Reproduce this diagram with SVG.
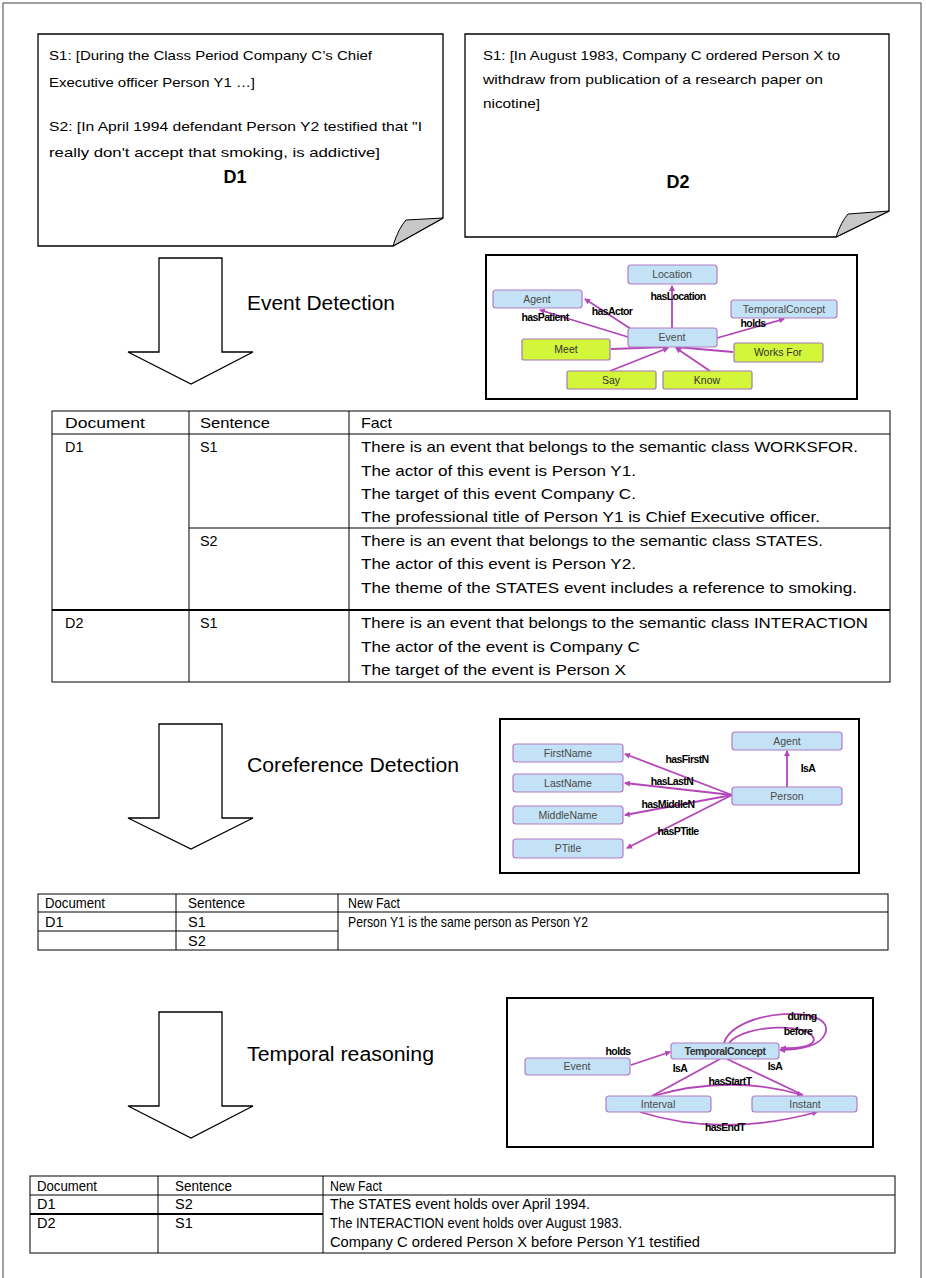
<svg xmlns="http://www.w3.org/2000/svg" width="926" height="1278" viewBox="0 0 926 1278">
<style>
text{font-family:"Liberation Sans",Arial,sans-serif;fill:#000}
.doc{font-size:13.4px}
.lbl{font-size:18px;font-weight:bold;text-anchor:middle}
.step{font-size:20px}
.t1{font-size:14.4px}
.t2{font-size:14.5px}
.on{font-size:10.5px;fill:#4a4a4a;text-anchor:middle}
.el{font-size:10.5px;font-weight:bold;letter-spacing:-0.6px;text-anchor:middle}
.nb{fill:#c3e2f5;stroke:#b47ac6;stroke-width:1.2}
.ng{fill:#d3f53a;stroke:#a27ab5;stroke-width:1.2}
.edge{stroke:#b446b9;stroke-width:1.8;fill:none}
.page{fill:#fff;stroke:#000;stroke-width:1.3}
.fold{fill:#c8c8c8;stroke:#000;stroke-width:1}
.arrow{fill:#fff;stroke:#000;stroke-width:1.3}
.grid{stroke:#000;stroke-width:1;fill:none}
.obox{fill:#fff;stroke:#000;stroke-width:2}
</style>
<defs>
<marker id="ah" markerWidth="6" markerHeight="6" refX="5" refY="3" orient="auto" markerUnits="userSpaceOnUse">
<path d="M0,0 L6,3 L0,6 Z" fill="#b446b9"/>
</marker>
</defs>
<rect x="0" y="0" width="926" height="1278" fill="#fff"/>
<rect x="3" y="3" width="918" height="1290" fill="none" stroke="#444" stroke-width="1"/>

<!-- Documents -->
<g id="doc-d1">
<path class="page" d="M38,34 H443 V218 L393,246 H38 Z"/>
<path class="fold" d="M393,246 Q398,229 406,220 L443,218 Z"/>
<text class="doc" x="49" y="60" textLength="323" lengthAdjust="spacingAndGlyphs">S1: [During the Class Period Company C’s Chief</text>
<text class="doc" x="49" y="87" textLength="206" lengthAdjust="spacingAndGlyphs">Executive officer Person Y1 …]</text>
<text class="doc" x="49" y="131" textLength="373" lengthAdjust="spacingAndGlyphs">S2: [In April 1994 defendant Person Y2 testified that "I</text>
<text class="doc" x="49" y="157" textLength="331" lengthAdjust="spacingAndGlyphs">really don't accept that smoking, is addictive]</text>
<text class="lbl" x="235" y="183">D1</text>
</g>
<g id="doc-d2">
<path class="page" d="M465,34 H889 V211 L836,237 H465 Z"/>
<path class="fold" d="M836,237 Q841,222 848,214 L889,211 Z"/>
<text class="doc" x="483" y="60" textLength="357" lengthAdjust="spacingAndGlyphs">S1: [In August 1983, Company C ordered Person X to</text>
<text class="doc" x="483" y="84" textLength="340" lengthAdjust="spacingAndGlyphs">withdraw from publication of a research paper on</text>
<text class="doc" x="483" y="108" textLength="57" lengthAdjust="spacingAndGlyphs">nicotine]</text>
<text class="lbl" x="678" y="188">D2</text>
</g>

<!-- Step arrows -->
<g id="step-event">
<polygon class="arrow" points="159,258 222,258 222,352 253,352 191,384 128,352 159,352"/>
<text class="step" x="247" y="310" textLength="148" lengthAdjust="spacingAndGlyphs">Event Detection</text>
</g>
<g id="step-coref">
<polygon class="arrow" points="159,724 222,724 222,818 253,818 191,849 128,818 159,818"/>
<text class="step" x="247" y="772" textLength="212" lengthAdjust="spacingAndGlyphs">Coreference Detection</text>
</g>
<g id="step-temporal">
<polygon class="arrow" points="159,1012 222,1012 222,1106 253,1106 191,1138 128,1106 159,1106"/>
<text class="step" x="247" y="1061" textLength="187" lengthAdjust="spacingAndGlyphs">Temporal reasoning</text>
</g>

<!-- Ontology 1 -->
<g id="onto-event">
<rect class="obox" x="486" y="255" width="371" height="144"/>
<g id="connectors-1">
<line class="edge" x1="672" y1="328" x2="672" y2="286" marker-end="url(#ah)"/>
<line class="edge" x1="634" y1="331" x2="585" y2="299" marker-end="url(#ah)"/>
<line class="edge" x1="628" y1="337" x2="540" y2="310" marker-end="url(#ah)"/>
<line class="edge" x1="717" y1="338" x2="784" y2="319" marker-end="url(#ah)"/>
<line class="edge" x1="611" y1="349" x2="668" y2="347" marker-end="url(#ah)"/>
<line class="edge" x1="733" y1="352" x2="676" y2="347" marker-end="url(#ah)"/>
<line class="edge" x1="610" y1="371" x2="668" y2="348" marker-end="url(#ah)"/>
<line class="edge" x1="710" y1="371" x2="676" y2="348" marker-end="url(#ah)"/>
</g>
<g id="n-location"><rect class="nb" x="628" y="265" width="89" height="19" rx="3"/><text class="on" x="672" y="278">Location</text></g>
<g id="n-agent"><rect class="nb" x="493" y="290" width="89" height="18" rx="3"/><text class="on" x="537" y="303">Agent</text></g>
<g id="n-temporal"><rect class="nb" x="731" y="300" width="106" height="18" rx="3"/><text class="on" x="784" y="313">TemporalConcept</text></g>
<g id="n-event"><rect class="nb" x="628" y="328" width="89" height="19" rx="3"/><text class="on" x="672" y="341">Event</text></g>
<g id="n-meet"><rect class="ng" x="522" y="339" width="88" height="21" rx="2"/><text class="on" x="566" y="353" style="fill:#333">Meet</text></g>
<g id="n-worksfor"><rect class="ng" x="734" y="343" width="89" height="19" rx="2"/><text class="on" x="778" y="356" style="fill:#333">Works For</text></g>
<g id="n-say"><rect class="ng" x="567" y="371" width="89" height="18" rx="2"/><text class="on" x="611" y="384" style="fill:#333">Say</text></g>
<g id="n-know"><rect class="ng" x="663" y="371" width="89" height="18" rx="2"/><text class="on" x="707" y="384" style="fill:#333">Know</text></g>
<text class="el" x="678" y="300">hasLocation</text>
<text class="el" x="612" y="315">hasActor</text>
<text class="el" x="545" y="321">hasPatient</text>
<text class="el" x="753" y="327">holds</text>
</g>

<!-- Table 1 -->
<g id="table-events">
<rect class="grid" x="52" y="411" width="838" height="271"/>
<line class="grid" x1="52" y1="434" x2="890" y2="434"/>
<line class="grid" x1="189" y1="411" x2="189" y2="682"/>
<line class="grid" x1="349" y1="411" x2="349" y2="682"/>
<line class="grid" x1="189" y1="528" x2="890" y2="528"/>
<line x1="52" y1="610" x2="890" y2="610" stroke="#000" stroke-width="2"/>
<text class="t1" x="65" y="428" textLength="80" lengthAdjust="spacingAndGlyphs">Document</text>
<text class="t1" x="200" y="428" textLength="70" lengthAdjust="spacingAndGlyphs">Sentence</text>
<text class="t1" x="361" y="428" textLength="31" lengthAdjust="spacingAndGlyphs">Fact</text>
<text class="t1" x="65" y="452">D1</text>
<text class="t1" x="200" y="452">S1</text>
<text class="t1" x="361" y="452" textLength="497" lengthAdjust="spacingAndGlyphs">There is an event that belongs to the semantic class WORKSFOR.</text>
<text class="t1" x="361" y="476" textLength="275" lengthAdjust="spacingAndGlyphs">The actor of this event is Person Y1.</text>
<text class="t1" x="361" y="499" textLength="275" lengthAdjust="spacingAndGlyphs">The target of this event Company C.</text>
<text class="t1" x="361" y="522" textLength="459" lengthAdjust="spacingAndGlyphs">The professional title of Person Y1 is Chief Executive officer.</text>
<text class="t1" x="200" y="546">S2</text>
<text class="t1" x="361" y="546" textLength="462" lengthAdjust="spacingAndGlyphs">There is an event that belongs to the semantic class STATES.</text>
<text class="t1" x="361" y="569" textLength="275" lengthAdjust="spacingAndGlyphs">The actor of this event is Person Y2.</text>
<text class="t1" x="361" y="593" textLength="496" lengthAdjust="spacingAndGlyphs">The theme of the STATES event includes a reference to smoking.</text>
<text class="t1" x="65" y="628">D2</text>
<text class="t1" x="200" y="628">S1</text>
<text class="t1" x="361" y="628" textLength="507" lengthAdjust="spacingAndGlyphs">There is an event that belongs to the semantic class INTERACTION</text>
<text class="t1" x="361" y="652" textLength="279" lengthAdjust="spacingAndGlyphs">The actor of the event is Company C</text>
<text class="t1" x="361" y="675" textLength="265" lengthAdjust="spacingAndGlyphs">The target of the event is Person X</text>
</g>

<!-- Ontology 2 -->
<g id="onto-coref">
<rect class="obox" x="500" y="719" width="359" height="154"/>
<g id="connectors-2">
<line class="edge" x1="732" y1="795" x2="625" y2="754" marker-end="url(#ah)"/>
<line class="edge" x1="732" y1="795" x2="625" y2="783" marker-end="url(#ah)"/>
<line class="edge" x1="732" y1="795" x2="625" y2="815" marker-end="url(#ah)"/>
<line class="edge" x1="732" y1="795" x2="627" y2="848" marker-end="url(#ah)"/>
<line class="edge" x1="787" y1="787" x2="787" y2="751" marker-end="url(#ah)"/>
</g>
<g id="n-agent2"><rect class="nb" x="732" y="732" width="110" height="18" rx="3"/><text class="on" x="787" y="745">Agent</text></g>
<g id="n-firstname"><rect class="nb" x="513" y="744" width="110" height="18" rx="3"/><text class="on" x="568" y="757">FirstName</text></g>
<g id="n-lastname"><rect class="nb" x="513" y="774" width="110" height="18" rx="3"/><text class="on" x="568" y="787">LastName</text></g>
<g id="n-person"><rect class="nb" x="732" y="787" width="110" height="18" rx="3"/><text class="on" x="787" y="800">Person</text></g>
<g id="n-middlename"><rect class="nb" x="513" y="806" width="110" height="18" rx="3"/><text class="on" x="568" y="819">MiddleName</text></g>
<g id="n-ptitle"><rect class="nb" x="513" y="839" width="110" height="19" rx="3"/><text class="on" x="568" y="852">PTitle</text></g>
<text class="el" x="687" y="763">hasFirstN</text>
<text class="el" x="672" y="785">hasLastN</text>
<text class="el" x="668" y="808">hasMiddleN</text>
<text class="el" x="678" y="835">hasPTitle</text>
<text class="el" x="808" y="772">IsA</text>
</g>

<!-- Table 2 -->
<g id="table-coref">
<rect class="grid" x="38" y="894" width="850" height="56"/>
<line class="grid" x1="38" y1="912" x2="888" y2="912"/>
<line class="grid" x1="176" y1="894" x2="176" y2="950"/>
<line class="grid" x1="338" y1="894" x2="338" y2="950"/>
<line class="grid" x1="38" y1="931" x2="338" y2="931"/>
<text class="t2" x="45" y="908" textLength="60" lengthAdjust="spacingAndGlyphs">Document</text>
<text class="t2" x="188" y="908" textLength="57" lengthAdjust="spacingAndGlyphs">Sentence</text>
<text class="t2" x="348" y="908" textLength="52" lengthAdjust="spacingAndGlyphs">New Fact</text>
<text class="t2" x="45" y="927">D1</text>
<text class="t2" x="188" y="927">S1</text>
<text class="t2" x="348" y="927" textLength="240" lengthAdjust="spacingAndGlyphs">Person Y1 is the same person as Person Y2</text>
<text class="t2" x="188" y="946">S2</text>
</g>

<!-- Ontology 3 -->
<g id="onto-temporal">
<rect class="obox" x="507" y="998" width="366" height="149"/>
<g id="connectors-3">
<line class="edge" x1="631" y1="1065" x2="670" y2="1052" marker-end="url(#ah)"/>
<line class="edge" x1="720" y1="1059" x2="652" y2="1096"/>
<line class="edge" x1="727" y1="1059" x2="803" y2="1095"/>
<path class="edge" d="M653,1096 Q730,1074 802,1095" marker-end="url(#ah)"/>
<path class="edge" d="M640,1112 Q722,1138 817,1112" marker-end="url(#ah)"/>
<path class="edge" d="M724,1043 C735,1008 838,1004 825,1034 C820,1046 800,1050 780,1050" marker-end="url(#ah)"/>
<path class="edge" d="M729,1043 C745,1024 812,1022 814,1040 C812,1047 796,1049 781,1048" marker-end="url(#ah)"/>
</g>
<g id="n-temporal3"><rect class="nb" x="671" y="1043" width="108" height="16" rx="3"/><text class="on" x="725" y="1055" style="fill:#333;font-weight:bold;letter-spacing:-0.5px">TemporalConcept</text></g>
<g id="n-event3"><rect class="nb" x="525" y="1058" width="105" height="17" rx="3"/><text class="on" x="577" y="1070">Event</text></g>
<g id="n-interval"><rect class="nb" x="606" y="1096" width="105" height="16" rx="3"/><text class="on" x="658" y="1108">Interval</text></g>
<g id="n-instant"><rect class="nb" x="752" y="1096" width="105" height="16" rx="3"/><text class="on" x="805" y="1108">Instant</text></g>
<text class="el" x="802" y="1020">during</text>
<text class="el" x="798" y="1035">before</text>
<text class="el" x="618" y="1055">holds</text>
<text class="el" x="680" y="1072">IsA</text>
<text class="el" x="775" y="1070">IsA</text>
<text class="el" x="730" y="1085">hasStartT</text>
<text class="el" x="725" y="1131">hasEndT</text>
</g>

<!-- Table 3 -->
<g id="table-temporal">
<rect class="grid" x="30" y="1176" width="865" height="77"/>
<line class="grid" x1="30" y1="1195" x2="895" y2="1195"/>
<line class="grid" x1="158" y1="1176" x2="158" y2="1253"/>
<line class="grid" x1="323" y1="1176" x2="323" y2="1253"/>
<line x1="30" y1="1214" x2="323" y2="1214" stroke="#000" stroke-width="2"/>
<text class="t2" x="37" y="1191" textLength="60" lengthAdjust="spacingAndGlyphs">Document</text>
<text class="t2" x="175" y="1191" textLength="57" lengthAdjust="spacingAndGlyphs">Sentence</text>
<text class="t2" x="330" y="1191" textLength="52" lengthAdjust="spacingAndGlyphs">New Fact</text>
<text class="t2" x="37" y="1209">D1</text>
<text class="t2" x="175" y="1209">S2</text>
<text class="t2" x="330" y="1209" textLength="260" lengthAdjust="spacingAndGlyphs">The STATES event holds over April 1994.</text>
<text class="t2" x="37" y="1228">D2</text>
<text class="t2" x="175" y="1228">S1</text>
<text class="t2" x="330" y="1228" textLength="292" lengthAdjust="spacingAndGlyphs">The INTERACTION event holds over August 1983.</text>
<text class="t2" x="330" y="1247" textLength="370" lengthAdjust="spacingAndGlyphs">Company C ordered Person X before Person Y1 testified</text>
</g>
</svg>
